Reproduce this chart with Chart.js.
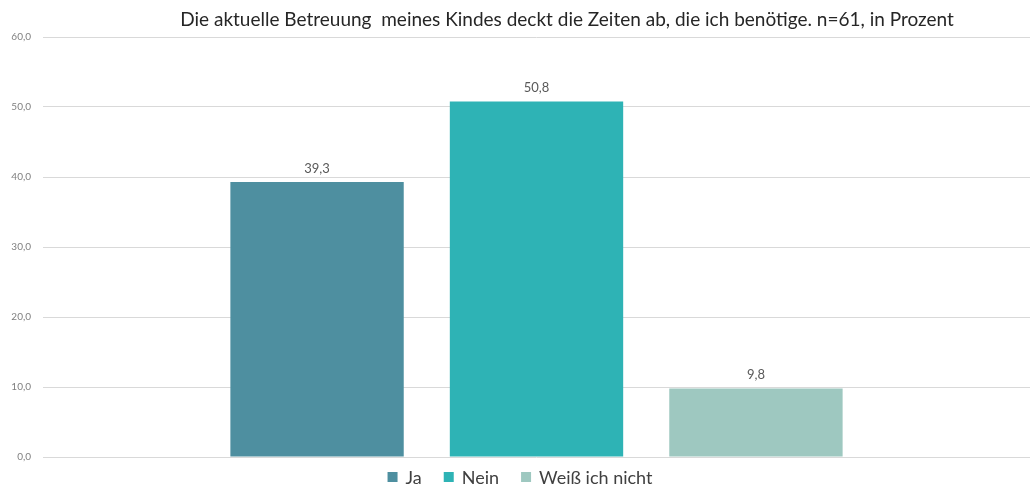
<!DOCTYPE html>
<html lang="de">
<head>
<meta charset="utf-8">
<script src="https://cdn.jsdelivr.net/npm/chart.js@4/dist/chart.umd.min.js"></script>
<style>
  html, body { margin: 0; padding: 0; background: #fff; }
  #wrap { width: 1030px; height: 485px; }
</style>
</head>
<body>
<div id="wrap"><canvas id="betreuungChart"></canvas></div>
<script>
// Antworten und Anteile in Prozent
const antworten = ['Ja', 'Nein', 'Weiß ich nicht'];
const anteile = [39.3, 50.8, 9.8];
const farben = ['#4e8fa0', '#2eb3b5', '#9ec8c0'];
const titel = 'Die aktuelle Betreuung  meines Kindes deckt die Zeiten ab, die ich benötige. n=61, in Prozent';
const yMax = 60;
const yStep = 10;

const schrift = 'Lato, "Open Sans", sans-serif';
const deZahl = v => v.toFixed(1).replace('.', ',');

// Titel etwas rechts von der Mitte
const titelPlugin = {
    id: 'titel',
    afterDraw(chart) {
        const ctx = chart.ctx;
        ctx.save();
        ctx.font = '19px ' + schrift;
        ctx.fillStyle = '#262626';
        ctx.textAlign = 'center';
        ctx.textBaseline = 'middle';
        ctx.fillText(titel, 567, 20);
        ctx.restore();
    }
};

// Werte über den Balken
const wertePlugin = {
    id: 'werte',
    afterDatasetsDraw(chart) {
        const ctx = chart.ctx;
        ctx.save();
        ctx.font = '13px ' + schrift;
        ctx.fillStyle = '#595959';
        ctx.textAlign = 'center';
        ctx.textBaseline = 'bottom';
        chart.data.datasets.forEach((ds, i) => {
            const bar = chart.getDatasetMeta(i).data[0];
            ctx.fillText(deZahl(ds.data[0]), bar.x, bar.y - 7);
        });
        ctx.restore();
    }
};

// Legende unten, eng unter der Nulllinie
const legendePlugin = {
    id: 'legende',
    afterDraw(chart) {
        const ctx = chart.ctx;
        const box = 10, luecke = 8, abstand = 22;
        ctx.save();
        ctx.font = '18px ' + schrift;
        ctx.textBaseline = 'middle';
        const items = chart.data.datasets.map(ds => ({
            text: ds.label,
            color: ds.backgroundColor,
            w: box + luecke + ctx.measureText(ds.label).width
        }));
        const gesamt = items.reduce((s, it) => s + it.w, 0) + abstand * (items.length - 1);
        let x = chart.width / 2 + 5 - gesamt / 2;
        const y = chart.chartArea.bottom + 20;
        items.forEach(it => {
            ctx.fillStyle = it.color;
            ctx.fillRect(x, y - box / 2, box, box);
            ctx.fillStyle = '#404040';
            ctx.fillText(it.text, x + box + luecke, y + 1);
            x += it.w + abstand;
        });
        ctx.restore();
    }
};

function initChart() {
    const ctx = document.getElementById('betreuungChart').getContext('2d');
    new Chart(ctx, {
        type: 'bar',
        data: {
            labels: [''],
            datasets: antworten.map((name, i) => ({
                label: name,
                data: [anteile[i]],
                backgroundColor: farben[i],
                borderWidth: 0,
                categoryPercentage: 0.667,
                barPercentage: 0.79
            }))
        },
        options: {
            responsive: true,
            maintainAspectRatio: false,
            animation: false,
            layout: { padding: { top: 37, right: 0, bottom: 28, left: 0 } },
            plugins: {
                title: { display: false },
                tooltip: { enabled: false },
                legend: { display: false }
            },
            scales: {
                x: { display: false },
                y: {
                    min: 0,
                    max: yMax,
                    border: { display: false },
                    grid: { color: '#d9d9d9', drawTicks: false },
                    ticks: {
                        stepSize: yStep,
                        padding: 12,
                        color: '#7f7f7f',
                        font: { family: schrift, size: 10 },
                        callback: v => deZahl(v)
                    },
                    afterFit(scale) { scale.width = 43; }
                }
            }
        },
        plugins: [titelPlugin, wertePlugin, legendePlugin]
    });
}

document.addEventListener('DOMContentLoaded', initChart);
</script>
</body>
</html>
